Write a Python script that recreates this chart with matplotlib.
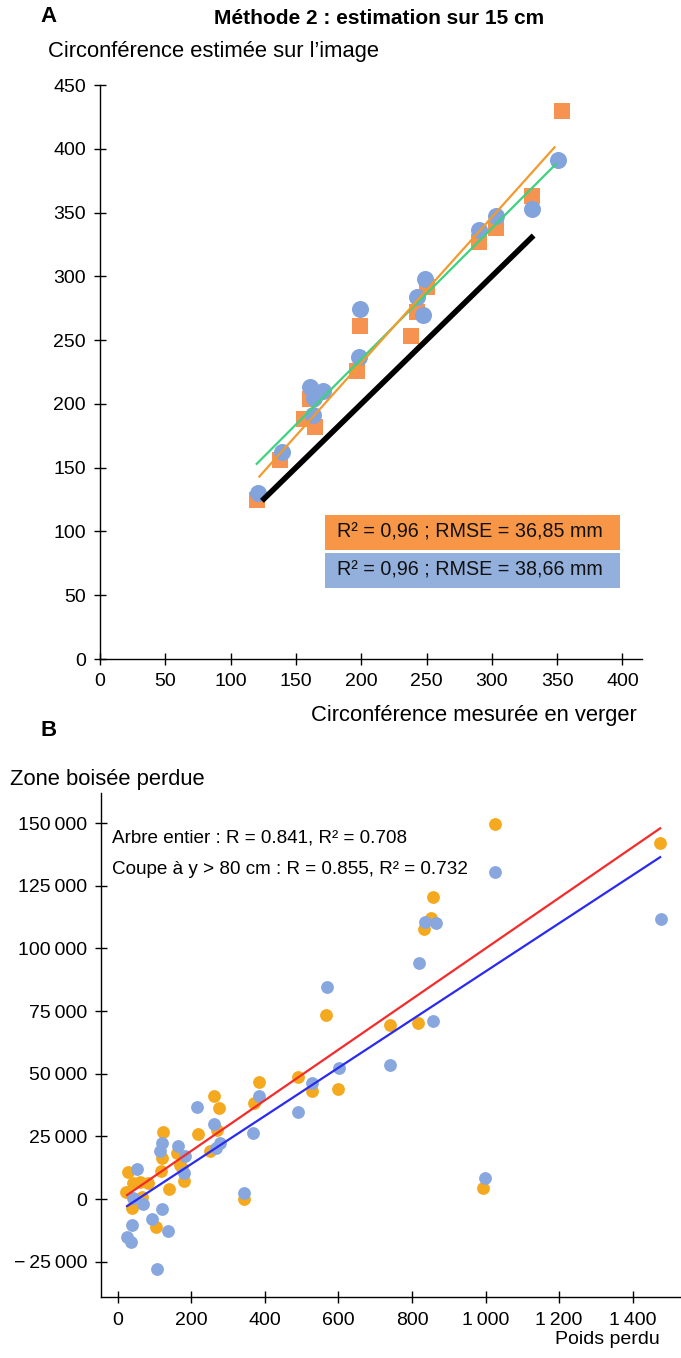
import matplotlib
matplotlib.use("Agg")
import matplotlib.pyplot as plt
from matplotlib.patches import Rectangle
from matplotlib.ticker import FuncFormatter
import numpy as np

plt.rcParams['font.family'] = ['Liberation Sans', 'DejaVu Sans']

# ---------------- Panel A data ----------------
a_orange_x = [120, 138, 156, 161, 165, 197, 199, 238, 243, 250, 290, 303, 331, 354]
a_orange_y = [125, 156, 188, 204, 182, 226, 261, 253, 272, 292, 327, 338, 363, 430]
a_blue_x = [121, 139, 163, 161, 171, 164, 198, 199, 243, 247, 249, 290, 303, 331, 351]
a_blue_y = [130, 162, 191, 213, 210, 205, 237, 274, 284, 270, 298, 336, 347, 353, 391]
# fitted lines: (x_start, x_end, slope, intercept)
a_green_fit = (120, 349, 1.026, 29.9)
a_orange_fit = (122, 348, 1.142, 3.7)
a_identity = (124, 332, 1.0, 0.0)
a_xticks = [0, 50, 100, 150, 200, 250, 300, 350, 400]
a_yticks = [0, 50, 100, 150, 200, 250, 300, 350, 400, 450]
a_box_texts = ["R² = 0,96 ; RMSE = 36,85 mm", "R² = 0,96 ; RMSE = 38,66 mm"]

# ---------------- Panel B data ----------------
b_orange_x = [1026, 1475, 857, 852, 833, 740, 816, 993, 566, 598, 490, 528, 384, 370,
              261, 275, 217, 269, 250, 343, 123, 120, 161, 169, 180, 117, 139, 27, 41,
              60, 83, 22, 65, 38, 103, 175]
b_orange_y = [149500, 141900, 120400, 112000, 107600, 69400, 70200, 4400, 73400, 43800,
              48600, 43000, 46600, 38300, 41000, 36300, 25900, 27500, 19100, 0, 26700,
              16300, 18300, 13600, 7200, 11200, 4000, 10800, 6400, 6800, 6400, 2800, 800,
              -3600, -11200, 12500]
b_blue_x = [1026, 1478, 835, 866, 819, 857, 740, 999, 569, 601, 528, 490, 384, 368, 215,
            261, 278, 267, 343, 120, 114, 163, 182, 180, 52, 41, 68, 38, 92, 120, 137,
            25, 35, 106]
b_blue_y = [130400, 111600, 110400, 110000, 94100, 71000, 53400, 8400, 84500, 52200, 46200,
            34700, 41000, 26300, 36700, 29900, 22300, 20300, 2400, 22300, 19100, 21100,
            17100, 10400, 12000, 400, -2000, -10400, -8000, -4000, -12800, -15200, -17100,
            -27900]
# regression lines: (x_start, x_end, slope, intercept)
b_red_fit = (25, 1475, 100.9, -920)
b_blue_fit = (25, 1475, 96.0, -5200)
b_xticks = [0, 200, 400, 600, 800, 1000, 1200, 1400]
b_yticks = [-25000, 0, 25000, 50000, 75000, 100000, 125000, 150000]
b_texts = ["Arbre entier : R = 0.841, R² = 0.708",
           "Coupe à y > 80 cm : R = 0.855, R² = 0.732"]

W, H = 681, 1358
fig = plt.figure(figsize=(W / 100, H / 100), dpi=100)


def fx(px):
    return px / W


def fy(py):
    return 1 - py / H


def style_axes(ax, fs):
    for s in ['top', 'right']:
        ax.spines[s].set_visible(False)
    for s in ['left', 'bottom']:
        ax.spines[s].set_linewidth(1.0)
        ax.spines[s].set_color('black')
    ax.tick_params(direction='inout', length=8, width=1.0, labelsize=fs,
                   colors='black')


def fit_line(ax, fit, **kw):
    x0, x1, m, b = fit
    xs = np.array([x0, x1])
    ax.plot(xs, m * xs + b, **kw)


# ---------------- Panel A ----------------
axA = fig.add_axes([fx(100), fy(659), (642 - 100) / W, (659 - 85) / H])
style_axes(axA, 14)
axA.set_xlim(0, 415)
axA.set_ylim(0, 450)
axA.set_xticks(a_xticks)
axA.set_yticks(a_yticks)
axA.tick_params(axis='x', pad=6)
axA.tick_params(axis='y', pad=6)

axA.scatter(a_orange_x, a_orange_y, marker='s', s=120, color='#F79350', zorder=3,
            linewidths=0)
axA.scatter(a_blue_x, a_blue_y, marker='o', s=150, color='#82A3DB', zorder=4,
            linewidths=0)
fit_line(axA, a_green_fit, color='#3DD27F', lw=1.6, zorder=5)
fit_line(axA, a_orange_fit, color='#F39A2E', lw=1.6, zorder=5)
fit_line(axA, a_identity, color='black', lw=4.0, zorder=6, solid_capstyle='butt')

box_colors = ['#F79646', '#93AFDB']
box_y = [(0.190, 0.251), (0.124, 0.185)]
for txt, col, (y0, y1) in zip(a_box_texts, box_colors, box_y):
    axA.add_patch(Rectangle((0.415, y0), 0.959 - 0.415, y1 - y0, transform=axA.transAxes,
                            facecolor=col, edgecolor='none', zorder=7, clip_on=False))
    axA.text(0.437, (y0 + y1) / 2, txt, transform=axA.transAxes, fontsize=14.2,
             va='center', ha='left', zorder=8, color='#111111')

fig.text(fx(40), fy(16), "A", fontsize=16, fontweight='bold', va='center', ha='left')
fig.text(fx(379), fy(18), "Méthode 2 : estimation sur 15 cm", fontsize=15,
         fontweight='bold', va='center', ha='center')
fig.text(fx(48), fy(52), "Circonférence estimée sur l’image", fontsize=15.8,
         va='center', ha='left')
fig.text(fx(637), fy(716), "Circonférence mesurée en verger", fontsize=15.8,
         va='center', ha='right')

# ---------------- Panel B ----------------
axB = fig.add_axes([fx(101), fy(1297), (680 - 101) / W, (1297 - 793) / H])
style_axes(axB, 14)
axB.set_xlim(-46, 1529)
axB.set_ylim(-39070, 162000)
axB.set_xticks(b_xticks)
axB.set_yticks(b_yticks)
axB.tick_params(axis='x', pad=7)
axB.tick_params(axis='y', pad=6)


def fmt_thousands(v, pos=None):
    v = int(round(v))
    s = f"{abs(v):,}".replace(",", "\u2009")
    return ("\u2212\u2009" + s) if v < 0 else s


axB.xaxis.set_major_formatter(FuncFormatter(fmt_thousands))
axB.yaxis.set_major_formatter(FuncFormatter(fmt_thousands))

axB.scatter(b_orange_x, b_orange_y, marker='o', s=85, color='#F4A91E', zorder=3,
            linewidths=0)
axB.scatter(b_blue_x, b_blue_y, marker='o', s=85, color='#87A7DE', zorder=3,
            linewidths=0)
fit_line(axB, b_red_fit, color='#F52A2A', lw=1.6, zorder=5)
fit_line(axB, b_blue_fit, color='#2A2AF0', lw=1.6, zorder=5)

for txt, py in zip(b_texts, [838, 870]):
    fig.text(fx(112), fy(py), txt, fontsize=13.6, va='center', ha='left')

fig.text(fx(40), fy(730), "B", fontsize=16, fontweight='bold', va='center', ha='left')
fig.text(fx(10), fy(779), "Zone boisée perdue", fontsize=15.8, va='center', ha='left')
fig.text(fx(660), fy(1340), "Poids perdu", fontsize=14, va='center', ha='right')

fig.savefig("out.png", dpi=100)
